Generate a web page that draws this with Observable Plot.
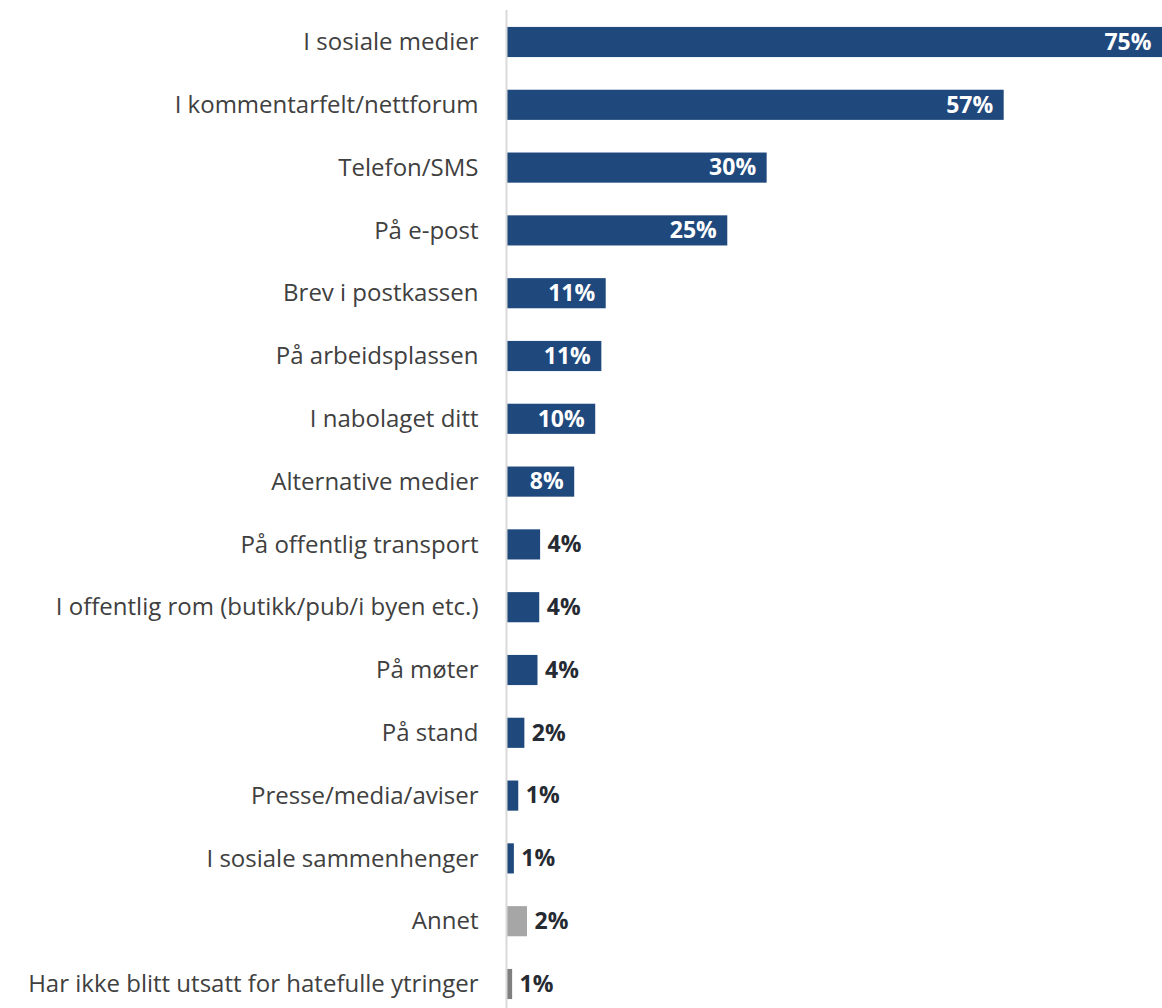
<!DOCTYPE html>
<html>
<head>
<meta charset="utf-8">
<script src="https://cdn.jsdelivr.net/npm/d3@7"></script>
<script src="https://cdn.jsdelivr.net/npm/@observablehq/plot@0.6"></script>
<style>
  html, body { margin: 0; padding: 0; background: #fff; }
  #chart svg { display: block; }
</style>
</head>
<body>
<div id="chart"></div>
<script>
const categories = [
  "I sosiale medier",
  "I kommentarfelt/nettforum",
  "Telefon/SMS",
  "På e-post",
  "Brev i postkassen",
  "På arbeidsplassen",
  "I nabolaget ditt",
  "Alternative medier",
  "På offentlig transport",
  "I offentlig rom (butikk/pub/i byen etc.)",
  "På møter",
  "På stand",
  "Presse/media/aviser",
  "I sosiale sammenhenger",
  "Annet",
  "Har ikke blitt utsatt for hatefulle ytringer"
];
const values = [75, 56.9, 29.8, 25.3, 11.4, 10.9, 10.2, 7.8, 3.9, 3.8, 3.6, 2.1, 1.4, 0.9, 2.4, 0.7];
const labels = ["75%", "57%", "30%", "25%", "11%", "11%", "10%", "8%", "4%", "4%", "4%", "2%", "1%", "1%", "2%", "1%"];
const groups = ["main","main","main","main","main","main","main","main","main","main","main","main","main","main","annet","ikke"];

const data = categories.map((c, i) => ({category: c, value: values[i], label: labels[i], group: groups[i]}));
const inside = data.filter(d => d.value >= 7);
const outside = data.filter(d => d.value < 7);

const chart = Plot.plot({
  width: 1162,
  height: 1008,
  marginLeft: 506,
  marginRight: 0,
  marginTop: 10,
  marginBottom: 0,
  style: {fontFamily: "'Open Sans', sans-serif", background: "#fff"},
  x: {domain: [0, 75], axis: null},
  y: {domain: categories, range: [10.6, 1015.4], paddingInner: 0.52, paddingOuter: 0.26, round: false, label: null},
  color: {domain: ["main", "annet", "ikke"], range: ["#1F497D", "#A6A6A6", "#7F7F7F"]},
  marks: [
    Plot.axisY({tickSize: 0, tickPadding: 28, fontSize: 24, fill: "#404040", label: null}),
    Plot.barX(data, {x: "value", y: "category", fill: "group"}),
    Plot.ruleX([0], {stroke: "#D9D9D9", strokeWidth: 2}),
    Plot.text(inside, {x: "value", y: "category", text: "label", textAnchor: "end", dx: -11, fill: "white", fontWeight: "bold", fontSize: 23}),
    Plot.text(outside, {x: "value", y: "category", text: "label", textAnchor: "start", dx: 7, fill: "#262B33", fontWeight: "bold", fontSize: 23})
  ]
});
document.getElementById("chart").appendChild(chart);
</script>
</body>
</html>
